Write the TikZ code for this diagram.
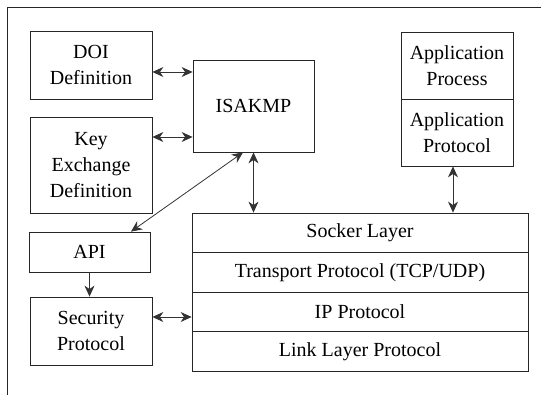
\documentclass[tikz,border=0pt]{standalone}
\usepackage{fontspec}
\setmainfont{Liberation Serif}
\usetikzlibrary{arrows.meta}
\begin{document}
\begin{tikzpicture}[x=1pt,y=-1pt,
  box/.style={draw=black!85,line width=0.8pt,rectangle,inner sep=0pt,align=center,
    font=\fontsize{20}{26}\selectfont},
  lay/.style={box,minimum width=336pt,minimum height=39.5pt},
  conn/.style={line width=0.8pt,black!80,{Stealth[length=11pt,width=10pt,inset=3.5pt]}-{Stealth[length=11pt,width=10pt,inset=3.5pt]}},
  oneway/.style={line width=0.8pt,black!80,-{Stealth[length=11pt,width=10pt,inset=3.5pt]}}]
\useasboundingbox (0,0) rectangle (541,395);
\draw[line width=1.2pt,black!85] (7.5,395) -- (7.5,7.5) -- (541,7.5);
\node[box,minimum width=122pt,minimum height=68pt] (doi) at (91,65) {DOI\\Definition};
\node[box,minimum width=122pt,minimum height=96pt] (key) at (91,165) {Key\\Exchange\\Definition};
\node[box,minimum width=121pt,minimum height=92pt] (isakmp) at (253.5,106) {ISAKMP};
\node[box,minimum width=112pt,minimum height=67pt] (appproc) at (457,65.5) {Application\\Process};
\node[box,minimum width=112pt,minimum height=67pt] (appprot) at (457,132.5) {Application\\Protocol};
\node[box,minimum width=121pt,minimum height=40pt] (api) at (89.5,252) {API};
\node[box,minimum width=122pt,minimum height=68pt] (sec) at (91,331) {Security\\Protocol};
\node[lay] (sock) at (360,232.75) {Socker Layer};
\node[lay] (trans) at (360,272.25) {Transport Protocol (TCP/UDP)};
\node[lay] (ip) at (360,311.75) {IP Protocol};
\node[lay] (link) at (360,351.25) {Link Layer Protocol};
\draw[conn] (doi.east |- 0,72) -- (isakmp.west |- 0,72);
\draw[conn] (key.east |- 0,137) -- (isakmp.west |- 0,137);
\draw[conn] (isakmp.south) -- (sock.north -| isakmp.south);
\draw[conn] (isakmp.south -| 243,0) -- (api.north -| 131,0);
\draw[oneway] (api.south) -- (sec.north -| api.south);
\draw[conn] (sec.east |- 0,317) -- (ip.west |- 0,317);
\draw[conn] (appprot.south -| 453,0) -- (sock.north -| 453,0);
\end{tikzpicture}
\end{document}
